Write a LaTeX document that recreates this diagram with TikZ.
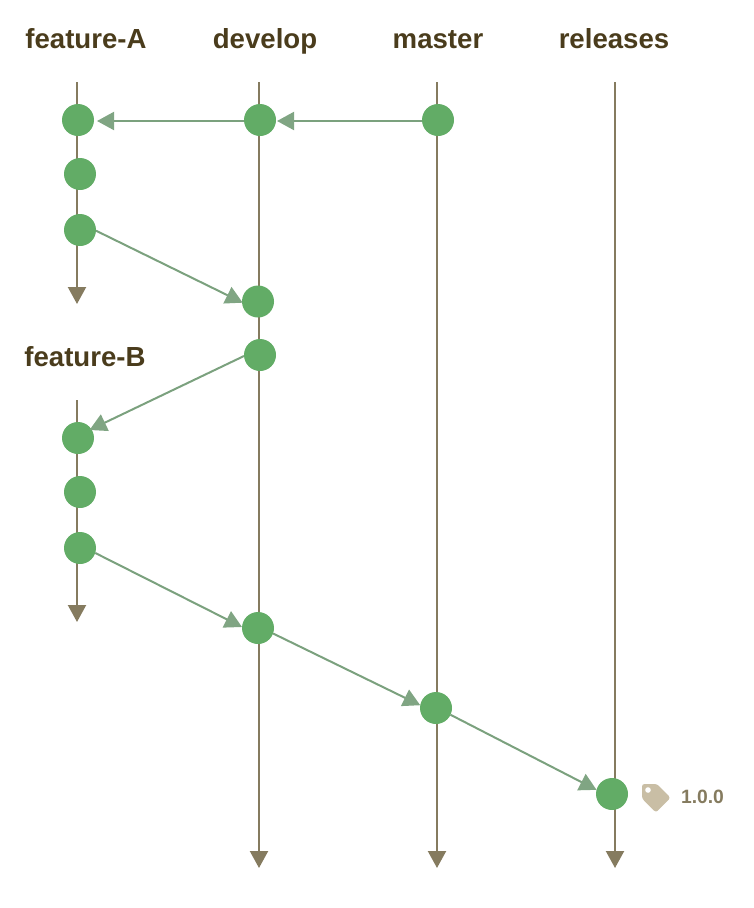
\documentclass[tikz,border=0pt]{standalone}
\usepackage{fontspec}
\setmainfont{Liberation Sans}
\usetikzlibrary{arrows.meta,backgrounds}
\definecolor{lanecol}{HTML}{857B5F}
\definecolor{commitcol}{HTML}{62AC66}
\definecolor{flowcol}{HTML}{7BA17E}
\definecolor{headcol}{HTML}{80A583}
\definecolor{titlecol}{HTML}{4A3C1C}
\definecolor{tagcol}{HTML}{C9BEA5}
\definecolor{tagtext}{HTML}{857B5F}
\tikzset{
  x=1pt,y=-1pt,
  commit/.style={circle,fill=commitcol,draw=none,minimum size=32pt,inner sep=0pt,outer sep=0pt},
  lane/.style={draw=lanecol,line width=2.2pt,-{Triangle[length=17pt,width=18pt,fill=lanecol]}},
  flow/.style={draw=flowcol,line width=2pt,-{Triangle[length=17pt,width=18pt,fill=headcol,color=headcol]}},
  title/.style={font=\bfseries\fontsize{27.6}{32}\selectfont,text=titlecol,inner sep=0pt,anchor=base},
  taglabel/.style={font=\bfseries\fontsize{19.3}{23}\selectfont,text=tagtext,inner sep=0pt,anchor=base}
}
\begin{document}
\begin{tikzpicture}
\useasboundingbox (0,0) rectangle (754,908);
\node[title] (tfa) at (86,48) {feature-A};
\node[title] (tde) at (265,48) {develop};
\node[title] (tma) at (438,48) {master};
\node[title] (tre) at (614,48) {releases};
\node[title] (tfb) at (85,366) {feature-B};

\node[commit] (a1) at (78,120) {};
\node[commit] (a2) at (80,174) {};
\node[commit] (a3) at (80,230) {};
\node[commit] (d1) at (260,120) {};
\node[commit] (d2) at (258,301.5) {};
\node[commit] (d3) at (260,355) {};
\node[commit] (m1) at (438,120) {};
\node[commit] (b1) at (78,438) {};
\node[commit] (b2) at (80,492) {};
\node[commit] (b3) at (80,548) {};
\node[commit] (d4) at (258,628) {};
\node[commit] (m2) at (436,708) {};
\node[commit] (r1) at (612,794) {};

\coordinate (fatop) at (77,82);
\coordinate (faend) at (77,304);
\coordinate (fbtop) at (77,400);
\coordinate (fbend) at (77,622);
\coordinate (detop) at (259,82);
\coordinate (deend) at (259,868);
\coordinate (matop) at (437,82);
\coordinate (maend) at (437,868);
\coordinate (retop) at (615,82);
\coordinate (reend) at (615,868);

\begin{scope}[on background layer]
\draw[lane] (fatop) -- (faend);
\draw[lane] (fbtop) -- (fbend);
\draw[lane] (detop) -- (deend);
\draw[lane] (matop) -- (maend);
\draw[lane] (retop) -- (reend);
\end{scope}

\draw[flow] ([yshift=-1pt]m1.west) -- ([xshift=1pt,yshift=-1pt]d1.east);
\draw[flow] ([yshift=-1pt]d1.west) -- ([xshift=3pt,yshift=-1pt]a1.east);
\draw[flow] ([yshift=-0.7pt]a3.east) -- ([xshift=0.7pt,yshift=-1.2pt]d2.west);
\draw[flow] ([yshift=-1pt]d3.west) -- ([xshift=-4.5pt,yshift=8pt]b1.east);
\draw[flow] (b3.-18) -- ([yshift=1pt]d4.west);
\draw[flow] (d4.-20) -- (m2.170);
\draw[flow] (m2.-25) -- (r1.165);

\fill[tagcol,rounded corners=2.5pt] (642,784) -- (657,784) -- (670.5,797.7) -- (656,812.5) -- (642,798.5) -- cycle;
\fill[white] (648,790) circle (2.8);
\node[taglabel] (tag) at (702.5,803.5) {1.0.0};
\end{tikzpicture}
\end{document}
